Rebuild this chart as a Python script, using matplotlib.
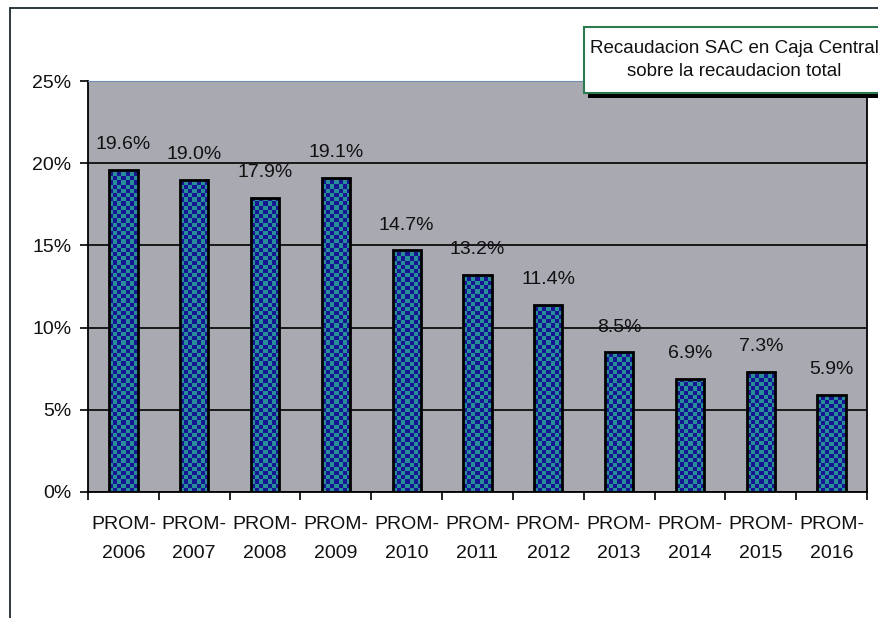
import numpy as np
import matplotlib
matplotlib.use("Agg")
from matplotlib import pyplot as plt
from matplotlib.patches import Rectangle
from matplotlib.ticker import FuncFormatter, FixedLocator

plt.rcParams['font.family'] = ['Liberation Sans', 'DejaVu Sans']

# datos
categorias = ['PROM-\n2006', 'PROM-\n2007', 'PROM-\n2008', 'PROM-\n2009', 'PROM-\n2010',
              'PROM-\n2011', 'PROM-\n2012', 'PROM-\n2013', 'PROM-\n2014', 'PROM-\n2015',
              'PROM-\n2016']
valores = [19.6, 19.0, 17.9, 19.1, 14.7, 13.2, 11.4, 8.5, 6.9, 7.3, 5.9]
etiquetas = ['19.6%', '19.0%', '17.9%', '19.1%', '14.7%', '13.2%', '11.4%',
             '8.5%', '6.9%', '7.3%', '5.9%']
titulo = 'Recaudacion SAC en Caja Central\nsobre la recaudacion total'

W, H = 879, 618
fig = plt.figure(figsize=(W/100, H/100), dpi=100)
fig.patch.set_facecolor('white')

# marco exterior
fig.patches.append(Rectangle((10/W, -0.1), 1.2, (H - 8)/H + 0.1, transform=fig.transFigure,
                             fill=False, edgecolor='#1c2a30', linewidth=1.3))

ax = fig.add_axes([88/W, (H-492)/H, (867-88)/W, (492-81)/H])
ax.set_facecolor('#a8a9b1')

ancho = 0.4
azul = np.array([0.09, 0.09, 0.58])
verde = np.array([0.16, 0.56, 0.60])
celda_y = 25 / 411 * 4.2

x = np.arange(len(valores))
barras = ax.bar(x, valores, width=ancho, color='none', edgecolor='black', linewidth=2, zorder=3)

# relleno a cuadros
for xi, v, b in zip(x, valores, barras):
    nfil = int(np.ceil(v / celda_y))
    ii, jj = np.indices((nfil, 7))
    mask = ((ii + jj) % 2 == 0)[..., None]
    img = np.where(mask, verde, azul)
    im = ax.imshow(img[::-1], extent=(xi - ancho/2, xi + ancho/2, 0, nfil*celda_y),
                   aspect='auto', interpolation='nearest', zorder=2)
    im.set_clip_path(b)
    ax.annotate(etiquetas[xi], (xi, v), xytext=(0, 12), textcoords='offset points',
                ha='center', va='bottom', fontsize=14, color='#111111')

ax.set_xlim(-0.5, len(valores) - 0.5)
ax.set_ylim(0, 25)
ax.set_yticks([0, 5, 10, 15, 20, 25])
ax.yaxis.set_major_formatter(FuncFormatter(lambda v, p: '%d%%' % v))
ax.grid(axis='y', color='black', linewidth=1.2, zorder=1)
ax.set_axisbelow(True)

ax.set_xticks(x)
ax.set_xticklabels(categorias, fontsize=14, linespacing=1.95, color='#111111')
ax.xaxis.set_minor_locator(FixedLocator(np.arange(-0.5, len(valores), 1)))
ax.tick_params(axis='x', which='major', length=0, pad=17)
ax.tick_params(axis='x', which='minor', length=6, width=1.2, direction='out')
ax.tick_params(axis='y', length=6, width=1.2, labelsize=14, pad=6, labelcolor='#111111')

for lado in ['left', 'bottom', 'right']:
    ax.spines[lado].set_color('black')
    ax.spines[lado].set_linewidth(1.3)
ax.spines['top'].set_color('#6f8fb8')

# cuadro de titulo
bx, by, bw, bh = 584, 27, 320, 66
fig.patches.append(Rectangle(((bx+4)/W, (H-by-bh-5)/H), bw/W, bh/H, transform=fig.transFigure,
                             facecolor='black', edgecolor='none', zorder=5))
fig.patches.append(Rectangle((bx/W, (H-by-bh)/H), bw/W, bh/H, transform=fig.transFigure,
                             facecolor='white', edgecolor='#2e7a50', linewidth=1.5, zorder=6))
fig.text(734/W, (H-60)/H, titulo, ha='center', va='center', fontsize=13.5,
         linespacing=1.4, zorder=7, color='#111111')

fig.savefig('out.png', dpi=100)
